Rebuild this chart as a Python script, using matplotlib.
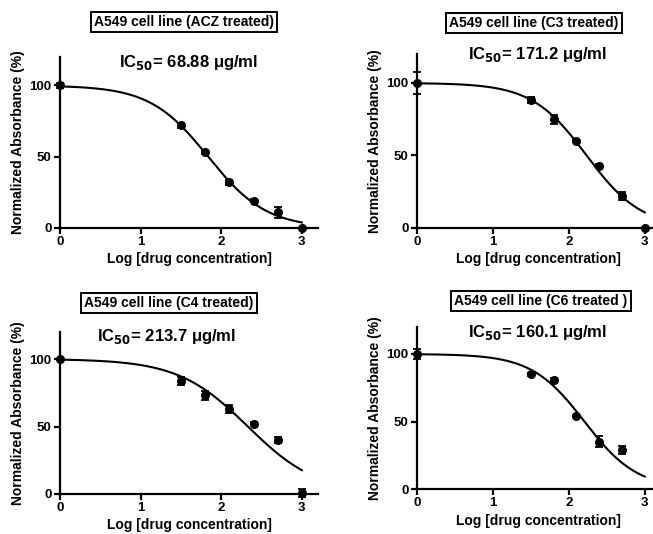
import numpy as np
import matplotlib
matplotlib.use("Agg")
import matplotlib.pyplot as plt

plt.rcParams['font.family'] = ['Liberation Sans', 'DejaVu Sans']
plt.rcParams['font.weight'] = 'bold'
plt.rcParams['mathtext.default'] = 'bf'

# ---- data ----
titles = ["A549 cell line (ACZ treated)", "A549 cell line (C3 treated)",
          "A549 cell line (C4 treated)", "A549 cell line (C6 treated )"]
ic50_labels = ["68.88", "171.2", "213.7", "160.1"]

x_acz = [0, 1.5, 1.8, 2.1, 2.4, 2.7, 3.0]
y_acz = [100, 72, 53, 32, 19, 11, 0]
e_acz = [2, 2, 1, 2, 1, 4, 0]

x_c3 = [0, 1.5, 1.8, 2.1, 2.4, 2.7, 3.0]
y_c3 = [100, 88, 75, 60, 43, 22, 0]
e_c3 = [7.5, 2, 3, 1, 1, 3, 0]

x_c4 = [0, 1.5, 1.8, 2.1, 2.4, 2.7, 3.0]
y_c4 = [100, 84, 73, 63, 52, 40, 1]
e_c4 = [0, 3, 3, 3, 1, 2.5, 3]

x_c6 = [0, 1.5, 1.8, 2.1, 2.4, 2.7]
y_c6 = [100, 85, 81, 54, 35, 29]
e_c6 = [4, 1, 1, 1, 4, 3]

# fitted curve parameters (IC50, Hill slope)
ic50_values = [68.88, 171.2, 213.7, 160.1]
hill_slopes = [1.2, 1.2, 1.0, 1.25]

xs = [x_acz, x_c3, x_c4, x_c6]
ys = [y_acz, y_c3, y_c4, y_c6]
es = [e_acz, e_c3, e_c4, e_c6]

W, H = 653, 534
fig = plt.figure(figsize=(W / 100, H / 100), dpi=100)

# axes rectangles in pixels: left, right(at x=3.2), top(y=120), bottom(y=0)
rects = [
    (60, 318, 57, 228),
    (417, 660, 54, 228),
    (60, 318, 332, 494),
    (417, 660, 327, 489),
]
title_pos = [(184, 22), (534, 23), (169, 303), (541, 301)]
ic_pos = [(189, 62), (538, 55), (167, 336), (538, 332)]

for i in range(4):
    l, r, t, b = rects[i]
    ax = fig.add_axes([l / W, 1 - b / H, (r - l) / W, (b - t) / H])
    ax.set_xlim(0, 3.2)
    ax.set_ylim(0, 120)
    for s in ['top', 'right']:
        ax.spines[s].set_visible(False)
    for s in ['left', 'bottom']:
        ax.spines[s].set_linewidth(1.6)
    ax.set_xticks([0, 1, 2, 3])
    ax.set_yticks([0, 50, 100])
    ax.tick_params(width=1.6, length=4, labelsize=9.5, pad=2)
    for lab in ax.get_xticklabels() + ax.get_yticklabels():
        lab.set_fontweight('bold')

    lic = np.log10(ic50_values[i])
    xc = np.linspace(0, 3, 300)
    yc = 100 / (1 + 10 ** ((xc - lic) * hill_slopes[i]))
    ax.plot(xc, yc, color='black', lw=1.5, clip_on=False)
    ax.errorbar(xs[i], ys[i], yerr=es[i], fmt='o', color='black', ms=5.5,
                capsize=3, elinewidth=1.3, capthick=1.3, clip_on=False, zorder=5)

    ax.set_xlabel("Log [drug concentration]", fontsize=10, fontweight='bold', labelpad=3)
    ax.set_ylabel("Normalized Absorbance (%)", fontsize=10, fontweight='bold', labelpad=3)

    tx, ty = title_pos[i]
    fig.text(tx / W, 1 - ty / H, titles[i], ha='center', va='center', fontsize=10,
             fontweight='bold',
             bbox=dict(boxstyle='square,pad=0.25', fc='white', ec='black', lw=1.4))
    cx, cy = ic_pos[i]
    fig.text(cx / W, 1 - cy / H, r"IC$_{\mathbf{50}}$= " + ic50_labels[i] + " \u03bcg/ml",
             ha='center', va='center', fontsize=12, fontweight='bold')

fig.savefig("out.png", dpi=100)
